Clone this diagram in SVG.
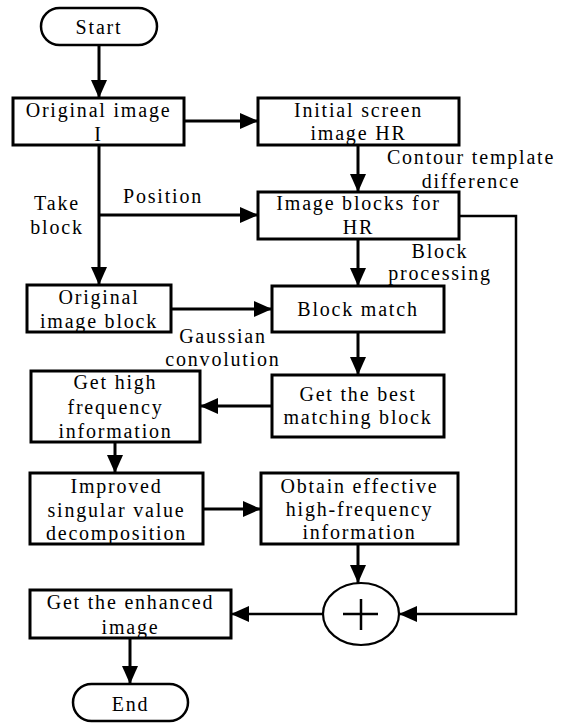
<svg xmlns="http://www.w3.org/2000/svg" width="564" height="723" viewBox="0 0 564 723" font-family="Liberation Serif">
<style>
.box{fill:#fff;stroke:#000;stroke-width:3}
.term{fill:#fff;stroke:#000;stroke-width:2.5}
text{font-family:'Liberation Serif','Times New Roman',serif;font-size:20px;letter-spacing:1.8px;fill:#000;text-anchor:middle}
.c{fill:none;stroke:#000;stroke-width:3}
.t{fill:none;stroke:#000;stroke-width:2.5}
</style>
<defs>
<marker id="ah" viewBox="0 0 18 16" refX="18" refY="8" markerWidth="18" markerHeight="16" markerUnits="userSpaceOnUse" orient="auto">
<path d="M0,0 L18,8 L0,16 z" fill="#000"/>
</marker>
</defs>
<rect width="564" height="723" fill="#fff"/>
<g id="connectors">
<path class="c" d="M99,45 V98" marker-end="url(#ah)"/>
<path class="c" d="M184,121 H258" marker-end="url(#ah)"/>
<path class="c" d="M358,145 V192" marker-end="url(#ah)"/>
<path class="c" d="M99,145 V285" marker-end="url(#ah)"/>
<path class="c" d="M99,215 H258" marker-end="url(#ah)"/>
<path class="c" d="M358,239 V286" marker-end="url(#ah)"/>
<path class="c" d="M171,309 H272" marker-end="url(#ah)"/>
<path class="c" d="M358,332 V375" marker-end="url(#ah)"/>
<path class="c" d="M272,406 H200" marker-end="url(#ah)"/>
<path class="c" d="M115,442 V473" marker-end="url(#ah)"/>
<path class="c" d="M203,509 H261" marker-end="url(#ah)"/>
<path class="c" d="M358,544 V583" marker-end="url(#ah)"/>
<path class="t" d="M459,216 H516 V614 H399" marker-end="url(#ah)"/>
<path class="t" d="M322,614 H231" marker-end="url(#ah)"/>
<path class="c" d="M130,638 V684" marker-end="url(#ah)"/>
<text x="471" y="164">Contour template</text>
<text x="471" y="188">difference</text>
<text x="57" y="210">Take</text>
<text x="57" y="234">block</text>
<text x="163" y="203">Position</text>
<text x="440" y="258">Block</text>
<text x="440" y="280">processing</text>
<text x="223" y="343">Gaussian</text>
<text x="223" y="366">convolution</text>
</g>
<g id="start">
<rect class="term" x="41" y="8" width="116" height="37" rx="18.5"/>
<text x="99" y="34">Start</text>
</g>
<g id="original-image">
<rect class="box" x="13" y="98" width="171" height="47"/>
<text x="98.5" y="117">Original image</text>
<text x="98.5" y="141">I</text>
</g>
<g id="initial-screen">
<rect class="box" x="258" y="98" width="201" height="47"/>
<text x="358.5" y="117">Initial screen</text>
<text x="358.5" y="140">image HR</text>
</g>
<g id="image-blocks">
<rect class="box" x="258" y="192" width="201" height="47"/>
<text x="358.5" y="210">Image blocks for</text>
<text x="358.5" y="234">HR</text>
</g>
<g id="original-block">
<rect class="box" x="27" y="285" width="144" height="47"/>
<text x="99" y="304">Original</text>
<text x="99" y="328">image block</text>
</g>
<g id="block-match">
<rect class="box" x="272" y="286" width="172" height="46"/>
<text x="358" y="316">Block match</text>
</g>
<g id="best-match">
<rect class="box" x="272" y="375" width="172" height="62"/>
<text x="358" y="401">Get the best</text>
<text x="358" y="424">matching block</text>
</g>
<g id="high-freq">
<rect class="box" x="31" y="371" width="169" height="71"/>
<text x="115.5" y="389">Get high</text>
<text x="115.5" y="414">frequency</text>
<text x="115.5" y="438">information</text>
</g>
<g id="svd">
<rect class="box" x="30" y="473" width="173" height="71"/>
<text x="116.5" y="493">Improved</text>
<text x="116.5" y="517">singular value</text>
<text x="116.5" y="540">decomposition</text>
</g>
<g id="effective">
<rect class="box" x="261" y="473" width="197" height="71"/>
<text x="359.5" y="493">Obtain effective</text>
<text x="359.5" y="516">high-frequency</text>
<text x="359.5" y="539">information</text>
</g>
<g id="sum">
<ellipse cx="361" cy="614" rx="38" ry="31" fill="#fff" stroke="#000" stroke-width="2.2"/>
<path d="M343,614 H378 M361,599 V630" stroke="#000" stroke-width="2.5" fill="none"/>
</g>
<g id="enhanced">
<rect class="box" x="30" y="590" width="201" height="48"/>
<text x="130.5" y="609">Get the enhanced</text>
<text x="130.5" y="634">image</text>
</g>
<g id="end">
<rect class="term" x="73" y="684" width="115" height="37" rx="18.5"/>
<text x="130.5" y="711">End</text>
</g>
</svg>
